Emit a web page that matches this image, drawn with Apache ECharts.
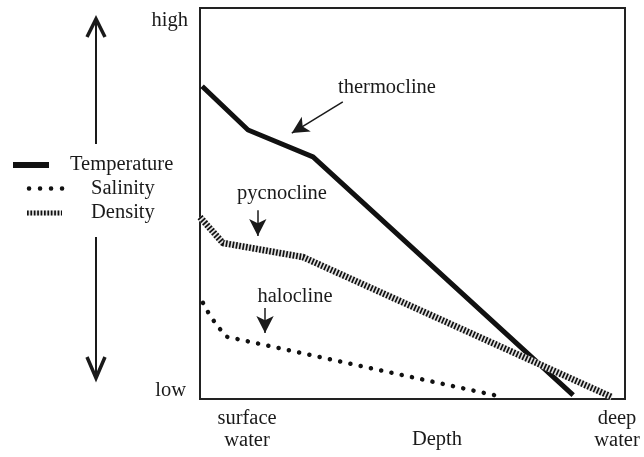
<!DOCTYPE html>
<html>
<head>
<meta charset="utf-8">
<script src="https://cdn.jsdelivr.net/npm/echarts@6/dist/echarts.min.js"></script>
<style>
html,body{margin:0;padding:0;background:#fff;}
#c{width:644px;height:457px;}
</style>
</head>
<body>
<div id="c"></div>
<script>
// Relative depth (0 = surface water, 1 = deep water) and relative value (0 = low, 1 = high)
const tempDepth = [0.005, 0.113, 0.266, 0.878];
const tempValue = [0.800, 0.688, 0.619, 0.010];
const salDepth  = [0.007, 0.020, 0.033, 0.047, 0.064, 0.713];
const salValue  = [0.246, 0.220, 0.199, 0.179, 0.159, 0.005];
const denDepth  = [0.000, 0.054, 0.242, 0.969];
const denValue  = [0.465, 0.399, 0.363, 0.005];

const seriesNames = ['Temperature', 'Salinity', 'Density'];
const yTickLabels = ['high', 'low'];
const xTickLabels = ['surface\nwater', 'Depth', 'deep\nwater'];
const annotations = ['thermocline', 'pycnocline', 'halocline'];
// annotation arrows in data coords: [fromDepth, fromValue, toDepth, toValue]
const thermoArrow = [0.336, 0.760, 0.216, 0.680];
const pycnoArrow  = [0.136, 0.483, 0.136, 0.417];
const haloArrow   = [0.153, 0.233, 0.153, 0.169];

function pts(xs, ys){ return xs.map((x,i)=>[x, ys[i]]); }
function arrow(a){ return [{coord:[a[0],a[1]]},{coord:[a[2],a[3]]}]; }

const FONT = '"Liberation Serif", "DejaVu Serif", serif';
const INK = '#1a1a1a';
const txt = (t, x, y, align, size) => ({
  type:'text', x:x, y:y, silent:true,
  style:{text:t, font:(size||20.5)+'px '+FONT, fill:INK, align:align||'center', verticalAlign:'middle', lineHeight:22}
});

const chart = echarts.init(document.getElementById('c'), null, {renderer:'canvas'});
chart.setOption({
  animation:false,
  backgroundColor:'#fff',
  grid:{left:200, right:19, top:8, bottom:58, show:true, borderColor:'#222', borderWidth:2, backgroundColor:'transparent'},
  xAxis:{type:'value', min:0, max:1, show:true, axisLine:{show:false}, axisTick:{show:false}, axisLabel:{show:false}, splitLine:{show:false}},
  yAxis:{type:'value', min:0, max:1, show:true, axisLine:{show:false}, axisTick:{show:false}, axisLabel:{show:false}, splitLine:{show:false}},
  series:[
    {
      name:seriesNames[0], type:'line', data:pts(tempDepth,tempValue), symbol:'none', z:3,
      lineStyle:{color:'#111', width:5, join:'miter'},
      emphasis:{disabled:true},
      markLine:{
        silent:true, symbol:['none','arrow'], symbolSize:[13,17],
        lineStyle:{color:INK, width:1.5, type:'solid'}, label:{show:false},
        emphasis:{disabled:true},
        data:[arrow(thermoArrow), arrow(pycnoArrow), arrow(haloArrow)]
      }
    },
    {
      name:seriesNames[1], type:'line', data:pts(salDepth,salValue), symbol:'none', z:3,
      lineStyle:{color:'#111', width:4.5, type:[0.1,10.4], cap:'round'},
      emphasis:{disabled:true}
    },
    {
      name:seriesNames[2]+' base', type:'line', data:pts(denDepth,denValue), symbol:'none', z:4,
      lineStyle:{color:'#e0e0e0', width:6.5},
      emphasis:{disabled:true}
    },
    {
      name:seriesNames[2], type:'line', data:pts(denDepth,denValue), symbol:'none', z:5,
      lineStyle:{color:'#111', width:6.5, type:[1.7,1.7], cap:'butt'},
      emphasis:{disabled:true}
    }
  ],
  graphic:[
    // vertical high/low arrow on the left
    {type:'line', silent:true, shape:{x1:96,y1:20,x2:96,y2:144}, style:{stroke:INK, lineWidth:2}},
    {type:'line', silent:true, shape:{x1:96,y1:237,x2:96,y2:378}, style:{stroke:INK, lineWidth:2}},
    {type:'polyline', silent:true, shape:{points:[[87,37],[96,19],[105,37]]}, style:{stroke:INK, lineWidth:3.5, fill:null, lineJoin:'miter'}},
    {type:'polyline', silent:true, shape:{points:[[87,357],[96,378],[105,357]]}, style:{stroke:INK, lineWidth:3.5, fill:null, lineJoin:'miter'}},
    // legend
    {type:'rect', silent:true, shape:{x:13,y:162,width:36,height:6}, style:{fill:'#111'}},
    {type:'line', silent:true, shape:{x1:29,y1:188.5,x2:63,y2:188.5}, style:{stroke:'#111', lineWidth:4.5, lineDash:[0.1,10.9], lineCap:'round'}},
    {type:'line', silent:true, shape:{x1:27,y1:213,x2:62,y2:213}, style:{stroke:'#e0e0e0', lineWidth:5}},
    {type:'line', silent:true, shape:{x1:27,y1:213,x2:62,y2:213}, style:{stroke:'#111', lineWidth:5, lineDash:[1.7,1.7]}},
    txt(seriesNames[0], 70, 165, 'left'),
    txt(seriesNames[1], 91, 189, 'left'),
    txt(seriesNames[2], 91, 213, 'left'),
    // axis texts
    txt(yTickLabels[0], 188, 21, 'right'),
    txt(yTickLabels[1], 186, 391, 'right'),
    txt(xTickLabels[0], 247, 430, 'center'),
    txt(xTickLabels[1], 437, 440, 'center'),
    txt(xTickLabels[2], 617, 430, 'center'),
    // annotations
    txt(annotations[0], 387, 88, 'center'),
    txt(annotations[1], 282, 194, 'center'),
    txt(annotations[2], 295, 297, 'center')
  ]
});
</script>
</body>
</html>
